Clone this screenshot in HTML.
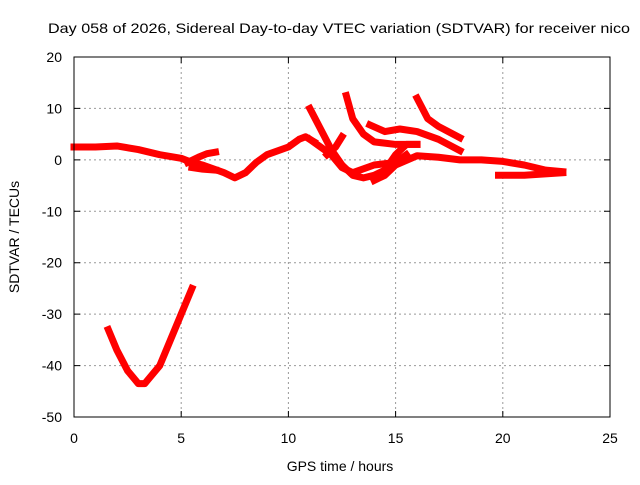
<!DOCTYPE html>
<html><head><meta charset="utf-8"><style>
body{margin:0;background:#fff}
svg{font-family:"Liberation Sans",sans-serif;font-size:14px}
</style></head><body>
<svg id="chart" width="640" height="480">
<text x="48" y="33" textLength="582" lengthAdjust="spacingAndGlyphs">Day 058 of 2026, Sidereal Day-to-day VTEC variation (SDTVAR) for receiver nico</text>
<g id="grid"></g>
<g id="axes"></g>
<g id="series"></g>
<rect x="74" y="57" width="536" height="360" fill="none" stroke="#000"/>
<text x="340" y="471" text-anchor="middle">GPS time / hours</text>
<text transform="translate(19,237) rotate(-90)" text-anchor="middle">SDTVAR / TECUs</text>
</svg>
<script>
const xTicks=[0,5,10,15,20,25];
const yTicks=[20,10,0,-10,-20,-30,-40,-50];
const trace1=[[0,2.5],[1,2.5],[2,2.7],[3,2],[4,1],[5,0.3],[5.5,-0.5],[6,-1],[7,-2.5],[7.5,-3.5],[8,-2.5],[8.5,-0.5],[9,1],[10,2.5],[10.5,4],[10.8,4.5],[11.2,3.5]];
const trace2=[[5.3,-0.5],[5.8,0.5],[6.2,1.2],[6.6,1.5]];
const trace3=[[5.5,-1.5],[6,-1.8],[6.6,-2]];
const trace4=[[11,10],[11.5,6],[12,2],[12.5,-1],[13,-3],[13.5,-3.5],[14,-3],[14.5,-2],[15,1],[15.5,3],[16,3]];
const trace5=[[12.7,12.5],[13,8],[13.5,5],[14,3.5],[15,3],[16,3]];
const trace6=[[13.8,6.8],[14.5,5.5],[15.2,6],[16,5.5],[17,4],[18,1.8]];
const trace7=[[16,12],[16.5,8],[17,6.5],[18,4.3]];
const trace8=[[14,-4],[14.5,-3],[15,-1],[16,0.8],[17,0.5],[18,0],[19,0],[20,-0.3],[21,-1],[22,-2],[22.8,-2.3]];
const trace9=[[19.8,-3],[21,-3],[22.8,-2.5]];
const trace10=[[11,4],[11.5,2.5],[12,1],[12.5,-1.5],[13,-2.5],[14,-1],[15,-0.5],[15.5,1]];
const trace11=[[11.8,1],[12.2,2.5],[12.5,4.5]];
const trace12=[[1.6,-33],[2,-37],[2.5,-41],[3,-43.5],[3.3,-43.5],[4,-40],[4.5,-35],[5,-30],[5.5,-25]];
const traces=[trace1,trace2,trace3,trace4,trace5,trace6,trace7,trace8,trace9,trace10,trace11,trace12];
const NS='http://www.w3.org/2000/svg';
const X=v=>74+v*536/25, Y=v=>57+(20-v)*360/70;
const grid=document.getElementById('grid'),axes=document.getElementById('axes'),ser=document.getElementById('series');
function mk(t,a,p){const e=document.createElementNS(NS,t);for(const k in a)e.setAttribute(k,a[k]);p.appendChild(e);return e;}
xTicks.forEach(t=>{
 if(t>0&&t<25){const g=mk('line',{x1:X(t),x2:X(t),y1:57,y2:417,stroke:'#999','stroke-dasharray':'2,3'},grid);
 
 }
 const tk=mk('path',{d:`M${X(t)},417v-6M${X(t)},57v6`,stroke:'#000'},axes);
 
 
 const l=mk('text',{x:X(t),y:443,'text-anchor':'middle'},axes);l.textContent=t;
 
 
});
yTicks.forEach(t=>{
 if(t<20&&t>-50){const g=mk('line',{x1:74,x2:610,y1:Y(t),y2:Y(t),stroke:'#999','stroke-dasharray':'2,3'},grid);
 
 }
 const tk=mk('path',{d:`M74,${Y(t)}h6M610,${Y(t)}h-6`,stroke:'#000'},axes);
 
 
 const l=mk('text',{x:62,y:Y(t)+5,'text-anchor':'end'},axes);l.textContent=t;
 
 
});
traces.forEach(tr=>{
 const p=mk('polyline',{points:tr.map(d=>X(d[0])+','+Y(d[1])).join(' '),fill:'none',stroke:'#f00','stroke-width':7,'stroke-linejoin':'round','stroke-linecap':'square'},ser);
 
 
});
</script>
</body></html>
